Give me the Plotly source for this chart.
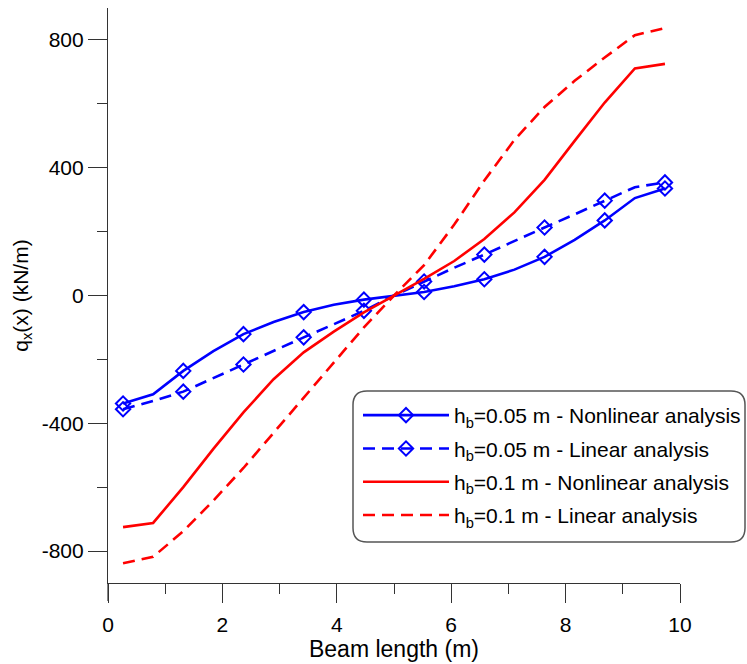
import plotly.graph_objects as go

# ---- data ----
beam_x = [0.263, 0.789, 1.316, 1.842, 2.368, 2.895, 3.421, 3.947, 4.474, 5.0,
          5.526, 6.053, 6.579, 7.105, 7.632, 8.158, 8.684, 9.211, 9.737]
q_nl_005 = [-338, -309, -236, -174, -121, -83, -52, -29, -13, 0,
            11, 29, 51, 81, 121, 174, 235, 305, 335]
q_lin_005 = [-356, -330, -301, -258, -216, -174, -131, -90, -48, 0,
             44, 87, 128, 171, 213, 254, 297, 339, 354]
q_nl_01 = [-725, -712, -600, -480, -366, -262, -178, -113, -53, 0,
           52, 108, 177, 260, 362, 484, 604, 711, 725]
q_lin_01 = [-838, -818, -738, -642, -540, -430, -318, -210, -100, 0,
            95, 222, 360, 487, 590, 672, 745, 815, 837]

x_tick_vals = [0, 2, 4, 6, 8, 10]
y_tick_vals = [-800, -400, 0, 400, 800]
y_tick_text = ["-800", "-400", "0", "400", "800"]

labels = [
    "h<sub>b</sub>=0.05 m - Nonlinear analysis",
    "h<sub>b</sub>=0.05 m - Linear analysis",
    "h<sub>b</sub>=0.1 m - Nonlinear analysis",
    "h<sub>b</sub>=0.1 m - Linear analysis",
]

BLUE = "#0000FF"
RED = "#FF0000"
DASH = "12px,7px"
FONT = "Liberation Sans, Arial, sans-serif"
AX = "#333333"

series = [
    (q_nl_005, BLUE, "solid", True),
    (q_lin_005, BLUE, DASH, True),
    (q_nl_01, RED, "solid", False),
    (q_lin_01, RED, DASH, False),
]

fig = go.Figure()
for i, (ys, col, dash, mk) in enumerate(series):
    fig.add_trace(go.Scatter(x=beam_x, y=ys, mode="lines",
                             line=dict(color=col, width=2.6, dash=dash),
                             showlegend=False, hoverinfo="skip"))
    if mk:
        fig.add_trace(go.Scatter(x=beam_x[::2], y=ys[::2], mode="markers",
                                 marker=dict(symbol="diamond-open", size=11,
                                             color=col, line=dict(width=2, color=col)),
                                 showlegend=False, hoverinfo="skip"))
for i, (ys, col, dash, mk) in enumerate(series):
    fig.add_trace(go.Scatter(x=[None], y=[None],
                             mode="lines+markers" if mk else "lines",
                             name=labels[i], legendgroup="g%d" % i,
                             line=dict(color=col, width=2.6, dash=dash),
                             marker=dict(symbol="diamond-open", size=11, color=col,
                                         line=dict(width=2, color=col))))

# geometry helpers (pixel -> paper) for the legend frame
L, R, T, B = 108, 680, 8, 583
def px(x):
    return (x - L) / (R - L)
def py(y):
    return (B - y) / (B - T)

bx0, bx1, by0, by1, rad = 353, 745, 391, 542, 14
path = (f"M{px(bx0+rad)},{py(by0)} L{px(bx1-rad)},{py(by0)} "
        f"Q{px(bx1)},{py(by0)} {px(bx1)},{py(by0+rad)} "
        f"L{px(bx1)},{py(by1-rad)} Q{px(bx1)},{py(by1)} {px(bx1-rad)},{py(by1)} "
        f"L{px(bx0+rad)},{py(by1)} Q{px(bx0)},{py(by1)} {px(bx0)},{py(by1-rad)} "
        f"L{px(bx0)},{py(by0+rad)} Q{px(bx0)},{py(by0)} {px(bx0+rad)},{py(by0)} Z")

fig.update_layout(
    width=747, height=664,
    margin=dict(l=L, r=747 - R, t=T, b=664 - B, autoexpand=False),
    paper_bgcolor="white", plot_bgcolor="white",
    font=dict(family=FONT, color="black"),
    showlegend=True,
    legend=dict(x=px(358), y=py(395), xanchor="left", yanchor="top",
                bgcolor="rgba(0,0,0,0)", borderwidth=0,
                font=dict(size=21, family=FONT, color="black"),
                tracegroupgap=3, itemwidth=86, traceorder="grouped"),
    shapes=[
        dict(type="path", path=path, xref="paper", yref="paper",
             line=dict(color="#555555", width=1.5), fillcolor="white", layer="above"),
        dict(type="line", xref="paper", yref="paper", x0=0, x1=0, y0=0, y1=py(B + 18),
             line=dict(color=AX, width=1.2)),
    ],
    xaxis=dict(range=[0, 10], showline=True, linecolor=AX, linewidth=1.2,
               showgrid=False, zeroline=False, ticks="outside", ticklen=19,
               tickwidth=1.2, tickcolor=AX, tickvals=x_tick_vals,
               tickfont=dict(size=21, family=FONT), ticklabelstandoff=4,
               minor=dict(ticks="outside", ticklen=10, dtick=1, tickwidth=1.2, tickcolor=AX),
               title=dict(text="Beam length (m)", font=dict(size=23, family=FONT), standoff=3)),
    yaxis=dict(range=[-900, 900], showline=True, linecolor=AX, linewidth=1.2,
               showgrid=False, zeroline=False, ticks="outside", ticklen=19,
               tickwidth=1.2, tickcolor=AX, tickvals=y_tick_vals, ticktext=y_tick_text,
               tickfont=dict(size=21, family=FONT),
               minor=dict(ticks="outside", ticklen=10, dtick=200, tickwidth=1.2, tickcolor=AX),
               title=dict(text="q<sub>x</sub>(x) (kN/m)", font=dict(size=21, family=FONT),
                          standoff=7)),
)

fig.write_html("out.html")
